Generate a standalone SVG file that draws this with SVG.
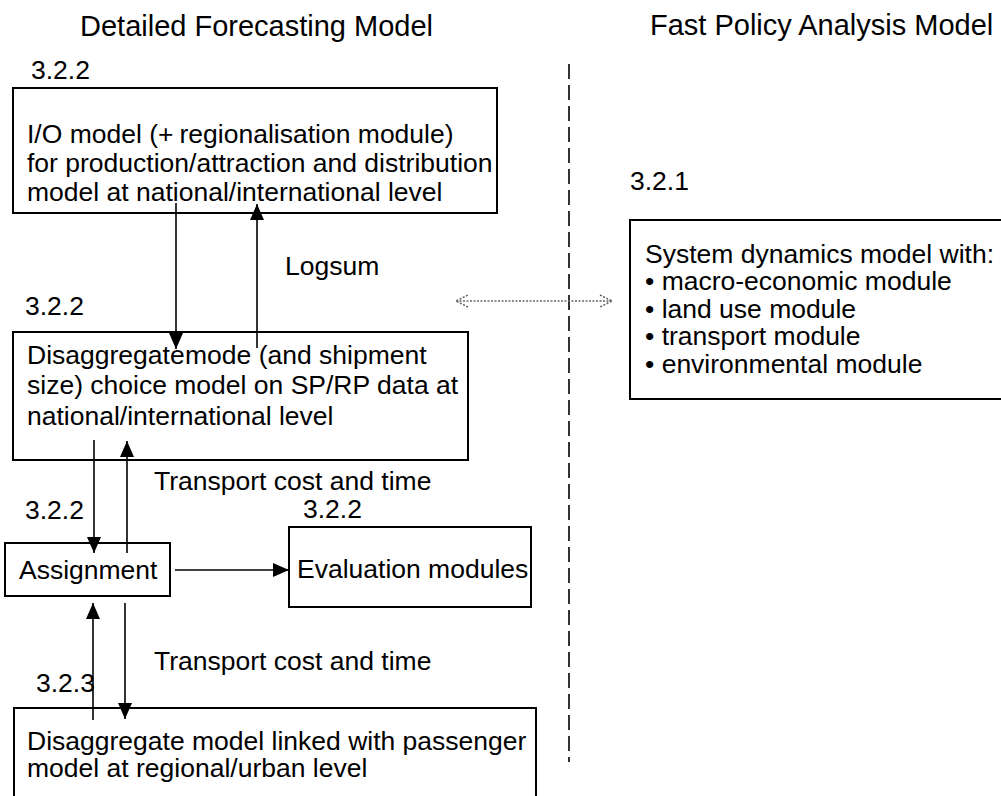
<svg xmlns="http://www.w3.org/2000/svg" width="1001" height="796" viewBox="0 0 1001 796">
<style>
  text { font-family: "Liberation Sans", Arial, sans-serif; fill: #000; }
  .t { font-size: 29px; }
  .b { font-size: 26.5px; }
  .box { fill: #fff; stroke: #000; stroke-width: 2; }
  .ln { stroke: #000; stroke-width: 1.6; fill: none; }
  .dot { stroke: #666; stroke-width: 1.6; fill: none; stroke-dasharray: 2 1.5; }
</style>
<defs>
  <marker id="ah" viewBox="0 0 16 14" refX="16" refY="7" markerWidth="16" markerHeight="14" markerUnits="userSpaceOnUse" orient="auto">
    <path d="M0,0 L16,7 L0,14 Z" fill="#000"/>
  </marker>
  <marker id="oh" viewBox="0 0 14 14" refX="13" refY="7" markerWidth="14" markerHeight="14" markerUnits="userSpaceOnUse" orient="auto-start-reverse">
    <path d="M1,1 L13,7 L1,13" fill="none" stroke="#666" stroke-width="1.6" stroke-dasharray="2 1.5"/>
  </marker>
</defs>
<rect width="1001" height="796" fill="#fff"/>

<text class="t" x="80" y="36">Detailed Forecasting Model</text>
<text class="t" x="650" y="35">Fast Policy Analysis Model</text>

<line x1="569" y1="64" x2="569" y2="762" stroke="#000" stroke-width="1.6" stroke-dasharray="15 6"/>

<g id="io-model">
  <text class="b" x="31" y="79">3.2.2</text>
  <rect class="box" x="13" y="88" width="484" height="125"/>
  <text class="b" x="27" y="143">I/O model (+<tspan dx="6">regionalisation module)</tspan></text>
  <text class="b" x="27" y="172">for production/attraction and distribution</text>
  <text class="b" x="27" y="201">model at national/international level</text>
</g>

<g id="mode-choice">
  <text class="b" x="25" y="315">3.2.2</text>
  <rect class="box" x="13" y="332" width="455" height="128"/>
  <text class="b" x="27" y="364">Disaggregate <tspan dx="-7">mode (and shipment</tspan></text>
  <text class="b" x="27" y="394">size) choice model on SP/RP data at</text>
  <text class="b" x="27" y="425">national/international level</text>
</g>

<g id="assignment">
  <text class="b" x="25" y="519">3.2.2</text>
  <rect class="box" x="5" y="543" width="165" height="53"/>
  <text class="b" x="19" y="579">Assignment</text>
</g>

<g id="evaluation">
  <text class="b" x="303" y="518">3.2.2</text>
  <rect class="box" x="289" y="527" width="242" height="80"/>
  <text class="b" x="297" y="578">Evaluation modules</text>
</g>

<g id="regional-model">
  <text class="b" x="36" y="692">3.2.3</text>
  <rect class="box" x="14" y="708" width="522" height="100"/>
  <text class="b" x="27" y="750">Disaggregate model linked with passenger</text>
  <text class="b" x="27" y="777">model at regional/urban level</text>
</g>

<g id="system-dynamics">
  <text class="b" x="630" y="190">3.2.1</text>
  <rect class="box" x="630" y="220" width="390" height="179"/>
  <text class="b" x="645" y="263">System dynamics model with:</text>
  <text class="b" x="645" y="290">• macro-economic module</text>
  <text class="b" x="645" y="318">• land use module</text>
  <text class="b" x="645" y="345">• transport module</text>
  <text class="b" x="645" y="373">• environmental module</text>
</g>

<g id="connectors">
  <line class="ln" x1="176" y1="203" x2="176" y2="349" marker-end="url(#ah)"/>
  <line class="ln" x1="257" y1="348" x2="257" y2="204" marker-end="url(#ah)"/>
  <line class="ln" x1="94" y1="440" x2="94" y2="553" marker-end="url(#ah)"/>
  <line class="ln" x1="127" y1="553" x2="127" y2="441" marker-end="url(#ah)"/>
  <line class="ln" x1="175" y1="570" x2="289" y2="570" marker-end="url(#ah)"/>
  <line class="ln" x1="93" y1="720" x2="93" y2="603" marker-end="url(#ah)"/>
  <line class="ln" x1="125" y1="603" x2="125" y2="719" marker-end="url(#ah)"/>
  <line class="dot" x1="456" y1="301" x2="612" y2="301" marker-start="url(#oh)" marker-end="url(#oh)"/>
  <text class="b" x="285" y="275">Logsum</text>
  <text class="b" x="154" y="490">Transport cost and time</text>
  <text class="b" x="154" y="670">Transport cost and time</text>
</g>
</svg>
